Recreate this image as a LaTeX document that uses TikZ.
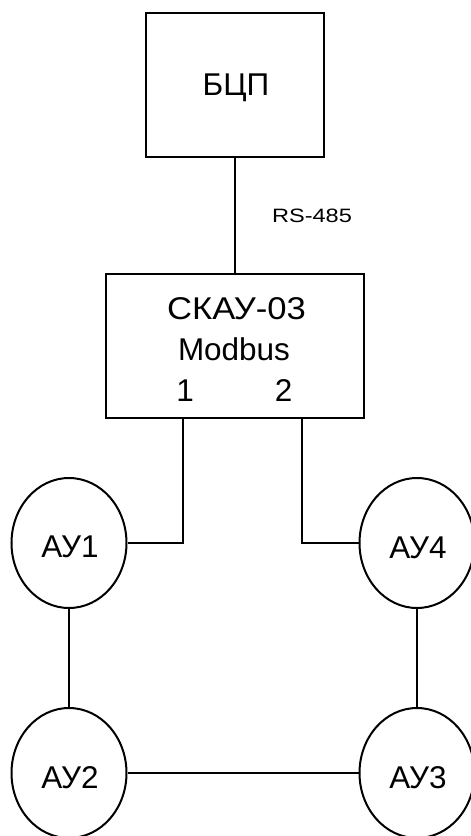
\documentclass[tikz,border=0pt]{standalone}
\usepackage{fontspec}
\usepackage{graphicx}
\setmainfont{Liberation Sans}
\usetikzlibrary{shapes.geometric}
\begin{document}
\begin{tikzpicture}[x=0.75pt,y=-0.75pt,
  ln/.style={line width=1.5pt},
  box/.style={draw,line width=1.5pt,rectangle,inner sep=0pt},
  unit/.style={draw,line width=1.5pt,ellipse,inner sep=0pt,minimum width={115*0.75pt},minimum height={130*0.75pt}},
  big/.style={anchor=base,inner sep=0pt,font=\fontsize{23.6}{28}\selectfont},
  small/.style={anchor=base,inner sep=0pt,font=\fontsize{14.5}{17}\selectfont}]
\useasboundingbox (0,0) rectangle (471,836);
\fill[white] (0,0) rectangle (471,836);
% boxes
\node[box,minimum width={178*0.75pt},minimum height={144*0.75pt}] (bcp) at (235,85) {};
\node[box,minimum width={258*0.75pt},minimum height={144*0.75pt}] (skau) at (235,346) {};
% texts
\node[big] (tbcp) at (236,95) {БЦП};
\node[small] (trs) at (312,222.5) {\scalebox{1.22}[1]{RS-485}};
\node[big] (tskau) at (236.5,319.5) {\scalebox{1.1}[1]{СКАУ-03}};
\node[big] (tmod) at (234,360) {Modbus};
\node[big] (tone) at (185,401.5) {1};
\node[big] (ttwo) at (283.5,401.5) {2};
% units
\node[unit] (au1) at (69,543) {};
\node[unit] (au4) at (417,543) {};
\node[unit] (au2) at (69,773) {};
\node[unit] (au3) at (417,773) {};
\node[big] (t1) at (70,557) {АУ1};
\node[big] (t4) at (418,558) {АУ4};
\node[big] (t2) at (70,788) {АУ2};
\node[big] (t3) at (418,788) {АУ3};
% connectors
\coordinate (p1) at (183,418);
\coordinate (p2) at (302,418);
\draw[ln] (bcp.south) -- (skau.north);
\draw[ln] (p1) |- (au1.east);
\draw[ln] (p2) |- (au4.west);
\draw[ln] (au1.south) -- (au2.north);
\draw[ln] (au4.south) -- (au3.north);
\draw[ln] (au2.east) -- (au3.west);
\end{tikzpicture}
\end{document}
